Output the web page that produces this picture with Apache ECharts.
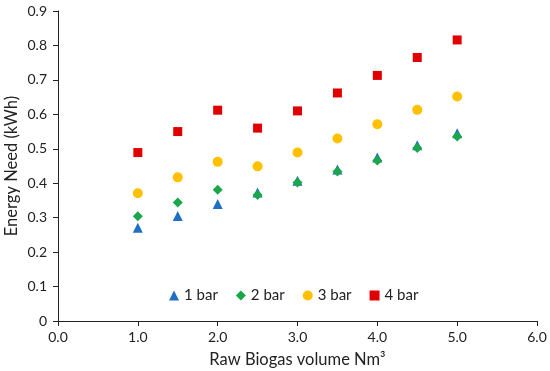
<!DOCTYPE html>
<html><head><meta charset="utf-8">
<script src="https://cdn.jsdelivr.net/npm/echarts@6/dist/echarts.min.js"></script>
<style>html,body{margin:0;padding:0;background:#fff}#c{width:550px;height:371px}</style>
</head><body><div id="c"></div>
<script>
const xValues = [1.0, 1.5, 2.0, 2.5, 3.0, 3.5, 4.0, 4.5, 5.0];
const bar1 = [0.271, 0.305, 0.340, 0.373, 0.407, 0.440, 0.475, 0.510, 0.545];
const bar2 = [0.304, 0.344, 0.381, 0.366, 0.402, 0.434, 0.466, 0.502, 0.536];
const bar3 = [0.371, 0.417, 0.462, 0.449, 0.489, 0.530, 0.571, 0.613, 0.652];
const bar4 = [0.489, 0.550, 0.612, 0.560, 0.610, 0.662, 0.713, 0.765, 0.816];
const seriesNames = ['1 bar', '2 bar', '3 bar', '4 bar'];
const colors = ['#1f6fc5', '#1aa64a', '#ffc000', '#e00000'];
const symbols = ['triangle', 'diamond', 'circle', 'rect'];
const sizes = [10, 10, 10, 9];
const allData = [bar1, bar2, bar3, bar4];
const font = 'Lato, "Open Sans", sans-serif';

const chart = echarts.init(document.getElementById('c'), null, {renderer: 'canvas'});
chart.setOption({
  animation: false,
  textStyle: {fontFamily: font},
  grid: {left: 58, right: 13, top: 11, bottom: 50, containLabel: false, outerBoundsMode: 'none'},
  legend: {
    data: seriesNames.map((n, i) => ({name: n, icon: symbols[i]})),
    left: 164, top: 283, itemWidth: 10, itemHeight: 10, itemGap: 18,
    textStyle: {fontSize: 15, color: '#222', fontFamily: font}
  },
  xAxis: {
    type: 'value', min: 0, max: 6, interval: 1,
    name: 'Raw Biogas volume Nm³', nameLocation: 'middle', nameGap: 30, nameMoveOverlap: false,
    nameTextStyle: {fontSize: 16.5, color: '#222', fontFamily: font},
    axisLine: {lineStyle: {color: '#222', width: 1}},
    axisTick: {show: true, length: 5, lineStyle: {color: '#222'}},
    axisLabel: {fontSize: 14, color: '#222', formatter: v => v.toFixed(1), margin: 9},
    splitLine: {show: false}
  },
  yAxis: {
    type: 'value', min: 0, max: 0.9, interval: 0.1,
    name: 'Energy Need (kWh)', nameLocation: 'middle', nameGap: 38, nameMoveOverlap: false,
    nameTextStyle: {fontSize: 16.5, color: '#222', fontFamily: font},
    axisLine: {show: true, lineStyle: {color: '#222', width: 1}},
    axisTick: {show: true, length: 5, lineStyle: {color: '#222'}},
    axisLabel: {fontSize: 14, color: '#222', formatter: v => v === 0 ? '0' : v.toFixed(1), margin: 11},
    splitLine: {show: false}
  },
  series: allData.map((d, i) => ({
    name: seriesNames[i], type: 'scatter', symbol: symbols[i], symbolSize: sizes[i],
    itemStyle: {color: colors[i], opacity: 1},
    data: xValues.map((x, j) => [x, d[j]])
  }))
});
</script></body></html>
